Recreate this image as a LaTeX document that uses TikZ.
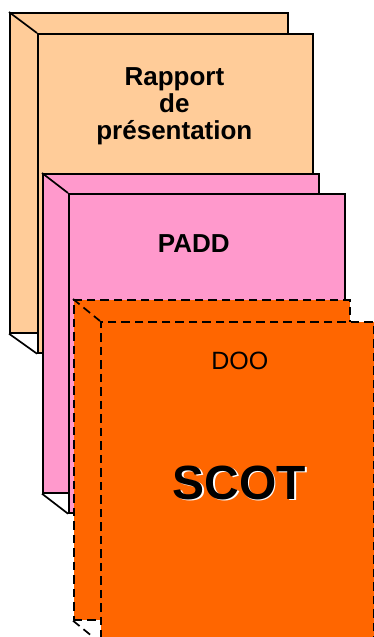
\documentclass[tikz,border=0pt]{standalone}
\usepackage{fontspec}
\setmainfont{Liberation Sans}
\usepackage{xcolor}
\usepackage{tikz}
\usetikzlibrary{positioning,calc}
\definecolor{peach}{RGB}{255,204,153}
\definecolor{rosepink}{RGB}{255,153,204}
\definecolor{deeporange}{RGB}{255,102,0}
\tikzset{
  sheet/.style={draw=black,line width=1.7pt,anchor=north west,inner sep=0pt,minimum width=276pt,minimum height=320pt},
  dsheet/.style={sheet,dash pattern=on 8.5pt off 5pt},
  fold/.style={draw=black,line width=1.7pt},
  dfold/.style={fold,dash pattern=on 8.5pt off 5pt},
  ttl/.style={font=\bfseries\fontsize{26}{27}\selectfont,align=center,inner sep=0pt},
  sub/.style={font=\fontsize{25}{26}\selectfont,inner sep=0pt},
  big/.style={font=\bfseries\fontsize{48}{50}\selectfont,inner sep=0pt},
}

\begin{document}
\begin{tikzpicture}[x=1pt,y=-1pt]
\useasboundingbox (0,0) rectangle (374,637);
\clip (0,0) rectangle (374,637);

% rapport de presentation
\node[sheet,fill=peach,minimum width=278pt] (rapB) at (9,12) {};
\node[sheet,fill=peach,minimum width=275pt,minimum height=319pt] (rapF) at (37,33) {};
\draw[fold] (rapB.north west) -- (rapF.north west);
\draw[fold] (rapB.south west) -- (rapF.south west);
\node[ttl] (rapT) at ($(rapF.north)+(-1,73)$) {Rapport\\de\\présentation};

% PADD
\node[sheet,fill=rosepink,minimum height=319pt] (padB) at (42,173) {};
\node[sheet,fill=rosepink,minimum height=319pt] (padF) at (68,193) {};
\draw[fold] (padB.north west) -- (padF.north west);
\draw[fold] (padB.south west) -- (padF.south west);
\node[ttl] (padT) at ($(padF.north)+(-13,51)$) {PADD};

% DOO / SCOT (dashed)
\node[dsheet,fill=deeporange] (dooB) at (73,299) {};
\node[dsheet,fill=deeporange,minimum width=273pt] (dooF) at (100,321) {};
\draw[dfold] (dooB.north west) -- (dooF.north west);
\draw[dfold] (dooB.south west) -- (dooF.south west);
\node[sub] (dooT) at ($(dooF.north)+(2.5,40)$) {DOO};
\node[big,text=white] (scotS) at ($(dooF.north)+(3.6,163.2)$) {SCOT};
\node[big] (scotT) at ($(dooF.north)+(2.2,162)$) {SCOT};
\end{tikzpicture}
\end{document}
